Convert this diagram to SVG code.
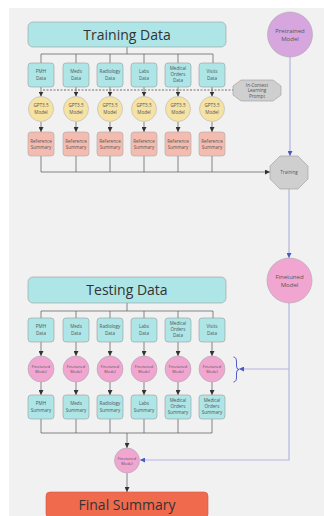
<svg xmlns="http://www.w3.org/2000/svg" width="324" height="516" viewBox="0 0 324 516">
  <style>
    .t { font-family: "Open Sans", "Noto Sans", "Liberation Sans", sans-serif; fill: #555; text-anchor: middle; }
    .big { font-size: 14px; fill: #333; }
    .sm { font-size: 4.6px; }
    .xs { font-size: 3.9px; }
    .md { font-size: 6px; }
    .cyan { fill: #aee5e6; stroke: #9a9a9a; stroke-width: 0.6; }
    .yel { fill: #f6e2a3; stroke: #b5b5b5; stroke-width: 0.6; }
    .sal { fill: #f4bcb0; stroke: #a8a8a8; stroke-width: 0.6; }
    .pink { fill: #f1a6d1; stroke: #a8a8a8; stroke-width: 0.6; }
    .oct { fill: #cfcfcf; stroke: #9a9a9a; stroke-width: 0.6; }
    .ln { fill: none; stroke: #555; stroke-width: 0.7; }
    .bl { fill: none; stroke: #b3b6e0; stroke-width: 1.2; }
  </style>
  <defs>
    <marker id="ah" viewBox="0 0 6 6" refX="6" refY="3" markerWidth="5" markerHeight="5" markerUnits="userSpaceOnUse" orient="auto">
      <path d="M0,0 L6,3 L0,6 Z" fill="#333"/>
    </marker>
    <marker id="ahb" viewBox="0 0 6 6" refX="6" refY="3" markerWidth="5" markerHeight="5" markerUnits="userSpaceOnUse" orient="auto">
      <path d="M0,0 L6,3 L0,6 Z" fill="#4a58c4"/>
    </marker>
  </defs>

  <!-- canvas panel -->
  <rect x="0" y="0" width="324" height="516" fill="#ffffff"/>
  <rect x="9" y="8" width="315" height="508" fill="#f1f1f1"/>

  <!-- connectors -->
  <g id="connectors">
    <!-- training bus -->
    <path class="ln" d="M127,47 V54 M41,63 V54 H213 V63 M76,54 V63 M110,54 V63 M144,54 V63 M178,54 V63"/>
    <path d="M43,90 H233" fill="none" stroke="#333" stroke-width="0.7" stroke-dasharray="2,1.5"/>
    <g class="ln" marker-end="url(#ah)">
      <path d="M41,87 V96.5"/><path d="M76,87 V96.5"/><path d="M110,87 V96.5"/>
      <path d="M144,87 V96.5"/><path d="M178,87 V96.5"/><path d="M212,87 V96.5"/>
      <path d="M41,122 V132"/><path d="M76,122 V132"/><path d="M110,122 V132"/>
      <path d="M144,122 V132"/><path d="M178,122 V132"/><path d="M212,122 V132"/>
    </g>
    <path class="ln" d="M41,156 V172 M76,156 V172 M110,156 V172 M144,156 V172 M178,156 V172 M212,156 V172"/>
    <path class="ln" d="M41,172 H270" marker-end="url(#ah)"/>

    <!-- model line -->
    <path class="bl" d="M290,57 V156" marker-end="url(#ahb)"/>
    <path class="bl" d="M289,189 V258" marker-end="url(#ahb)"/>
    <path class="bl" d="M289,303 V460 H140" marker-end="url(#ahb)"/>
    <path class="bl" d="M289,369 H239" marker-end="url(#ahb)"/>
    <path d="M233.5,357 Q236.5,357 236.5,362 V366 Q236.5,369.5 239,369.5 Q236.5,369.5 236.5,373 V377 Q236.5,382 233.5,382" fill="none" stroke="#3b4cc0" stroke-width="0.9"/>

    <!-- testing bus -->
    <path class="ln" d="M127,303 V311 M41,318 V311 H213 V318 M76,311 V318 M110,311 V318 M144,311 V318 M178,311 V318"/>
    <g class="ln" marker-end="url(#ah)">
      <path d="M41,342 V356"/><path d="M76,342 V356"/><path d="M110,342 V356"/>
      <path d="M144,342 V356"/><path d="M178,342 V356"/><path d="M212,342 V356"/>
      <path d="M41,382 V395"/><path d="M76,382 V395"/><path d="M110,382 V395"/>
      <path d="M144,382 V395"/><path d="M178,382 V395"/><path d="M212,382 V395"/>
    </g>
    <path class="ln" d="M41,419 V433 M76,419 V433 M110,419 V433 M144,419 V433 M178,419 V433 M212,419 V433 M41,433 H212"/>
    <path class="ln" d="M127,433 V448" marker-end="url(#ah)"/>
    <path class="ln" d="M127,473 V492" marker-end="url(#ah)"/>
  </g>

  <!-- training section -->
  <g id="training-data">
    <rect class="cyan" x="28" y="22" width="198" height="25" rx="5"/>
    <text class="t big" x="127" y="39.5">Training Data</text>
  </g>

  <g id="train-pmh"><rect class="cyan" x="28" y="63" width="26" height="24" rx="3"/>
    <text class="t sm" x="41" y="73">PMH</text><text class="t sm" x="41" y="80">Data</text></g>
  <g id="train-meds"><rect class="cyan" x="63" y="63" width="26" height="24" rx="3"/>
    <text class="t sm" x="76" y="73">Meds</text><text class="t sm" x="76" y="80">Data</text></g>
  <g id="train-radiology"><rect class="cyan" x="97" y="63" width="26" height="24" rx="3"/>
    <text class="t sm" x="110" y="73">Radiology</text><text class="t sm" x="110" y="80">Data</text></g>
  <g id="train-labs"><rect class="cyan" x="131" y="63" width="26" height="24" rx="3"/>
    <text class="t sm" x="144" y="73">Labs</text><text class="t sm" x="144" y="80">Data</text></g>
  <g id="train-orders"><rect class="cyan" x="165" y="63" width="26" height="24" rx="3"/>
    <text class="t sm" x="178" y="69.5">Medical</text><text class="t sm" x="178" y="75.5">Orders</text><text class="t sm" x="178" y="81.5">Data</text></g>
  <g id="train-visits"><rect class="cyan" x="199" y="63" width="26" height="24" rx="3"/>
    <text class="t sm" x="212" y="73">Visits</text><text class="t sm" x="212" y="80">Data</text></g>

  <g id="icl-prompt">
    <polygon class="oct" points="241,80 273,80 281,86 281,95 273,101 241,101 233,95 233,86"/>
    <text class="t sm" x="257" y="86.5">In-Context</text>
    <text class="t sm" x="257" y="92">Learning</text>
    <text class="t sm" x="257" y="97.5">Prompt</text>
  </g>

  <g id="gpt-1"><circle class="yel" cx="41" cy="109" r="12.5"/><text class="t sm" x="41" y="107">GPT3.5</text><text class="t sm" x="41" y="114">Model</text></g>
  <g id="gpt-2"><circle class="yel" cx="76" cy="109" r="12.5"/><text class="t sm" x="76" y="107">GPT3.5</text><text class="t sm" x="76" y="114">Model</text></g>
  <g id="gpt-3"><circle class="yel" cx="110" cy="109" r="12.5"/><text class="t sm" x="110" y="107">GPT3.5</text><text class="t sm" x="110" y="114">Model</text></g>
  <g id="gpt-4"><circle class="yel" cx="144" cy="109" r="12.5"/><text class="t sm" x="144" y="107">GPT3.5</text><text class="t sm" x="144" y="114">Model</text></g>
  <g id="gpt-5"><circle class="yel" cx="178" cy="109" r="12.5"/><text class="t sm" x="178" y="107">GPT3.5</text><text class="t sm" x="178" y="114">Model</text></g>
  <g id="gpt-6"><circle class="yel" cx="212" cy="109" r="12.5"/><text class="t sm" x="212" y="107">GPT3.5</text><text class="t sm" x="212" y="114">Model</text></g>

  <g id="ref-1"><rect class="sal" x="28" y="132" width="26" height="24" rx="3"/><text class="t sm" x="41" y="142.5">Reference</text><text class="t sm" x="41" y="148.5">Summary</text></g>
  <g id="ref-2"><rect class="sal" x="63" y="132" width="26" height="24" rx="3"/><text class="t sm" x="76" y="142.5">Reference</text><text class="t sm" x="76" y="148.5">Summary</text></g>
  <g id="ref-3"><rect class="sal" x="97" y="132" width="26" height="24" rx="3"/><text class="t sm" x="110" y="142.5">Reference</text><text class="t sm" x="110" y="148.5">Summary</text></g>
  <g id="ref-4"><rect class="sal" x="131" y="132" width="26" height="24" rx="3"/><text class="t sm" x="144" y="142.5">Reference</text><text class="t sm" x="144" y="148.5">Summary</text></g>
  <g id="ref-5"><rect class="sal" x="165" y="132" width="26" height="24" rx="3"/><text class="t sm" x="178" y="142.5">Reference</text><text class="t sm" x="178" y="148.5">Summary</text></g>
  <g id="ref-6"><rect class="sal" x="199" y="132" width="26" height="24" rx="3"/><text class="t sm" x="212" y="142.5">Reference</text><text class="t sm" x="212" y="148.5">Summary</text></g>

  <!-- model path -->
  <g id="pretrained-model">
    <circle cx="290" cy="34.5" r="22.5" fill="#d8a6de" stroke="#a8a8a8" stroke-width="0.6"/>
    <text class="t md" x="290" y="33">Pretrained</text>
    <text class="t md" x="290" y="40.5">Model</text>
  </g>
  <g id="training">
    <polygon class="oct" points="280,156 298,156 308,166 308,179 298,189 280,189 270,179 270,166"/>
    <text class="t sm" x="289" y="174">Training</text>
  </g>
  <g id="finetuned-model">
    <circle class="pink" cx="289.5" cy="280.5" r="22.5"/>
    <text class="t md" x="289.5" y="279">Finetuned</text>
    <text class="t md" x="289.5" y="286.5">Model</text>
  </g>

  <!-- testing section -->
  <g id="testing-data">
    <rect class="cyan" x="28" y="277" width="198" height="26" rx="5"/>
    <text class="t big" x="127" y="295">Testing Data</text>
  </g>

  <g id="test-pmh"><rect class="cyan" x="28" y="318" width="26" height="24" rx="3"/>
    <text class="t sm" x="41" y="328">PMH</text><text class="t sm" x="41" y="335">Data</text></g>
  <g id="test-meds"><rect class="cyan" x="63" y="318" width="26" height="24" rx="3"/>
    <text class="t sm" x="76" y="328">Meds</text><text class="t sm" x="76" y="335">Data</text></g>
  <g id="test-radiology"><rect class="cyan" x="97" y="318" width="26" height="24" rx="3"/>
    <text class="t sm" x="110" y="328">Radiology</text><text class="t sm" x="110" y="335">Data</text></g>
  <g id="test-labs"><rect class="cyan" x="131" y="318" width="26" height="24" rx="3"/>
    <text class="t sm" x="144" y="328">Labs</text><text class="t sm" x="144" y="335">Data</text></g>
  <g id="test-orders"><rect class="cyan" x="165" y="318" width="26" height="24" rx="3"/>
    <text class="t sm" x="178" y="324.5">Medical</text><text class="t sm" x="178" y="330.5">Orders</text><text class="t sm" x="178" y="336.5">Data</text></g>
  <g id="test-visits"><rect class="cyan" x="199" y="318" width="26" height="24" rx="3"/>
    <text class="t sm" x="212" y="328">Visits</text><text class="t sm" x="212" y="335">Data</text></g>

  <g id="ft-1"><circle class="pink" cx="41" cy="369" r="13"/><text class="t xs" x="41" y="368">Finetuned</text><text class="t xs" x="41" y="373">Model</text></g>
  <g id="ft-2"><circle class="pink" cx="76" cy="369" r="13"/><text class="t xs" x="76" y="368">Finetuned</text><text class="t xs" x="76" y="373">Model</text></g>
  <g id="ft-3"><circle class="pink" cx="110" cy="369" r="13"/><text class="t xs" x="110" y="368">Finetuned</text><text class="t xs" x="110" y="373">Model</text></g>
  <g id="ft-4"><circle class="pink" cx="144" cy="369" r="13"/><text class="t xs" x="144" y="368">Finetuned</text><text class="t xs" x="144" y="373">Model</text></g>
  <g id="ft-5"><circle class="pink" cx="178" cy="369" r="13"/><text class="t xs" x="178" y="368">Finetuned</text><text class="t xs" x="178" y="373">Model</text></g>
  <g id="ft-6"><circle class="pink" cx="212" cy="369" r="13"/><text class="t xs" x="212" y="368">Finetuned</text><text class="t xs" x="212" y="373">Model</text></g>

  <g id="sum-pmh"><rect class="cyan" x="28" y="395" width="26" height="24" rx="3"/>
    <text class="t sm" x="41" y="405">PMH</text><text class="t sm" x="41" y="412">Summary</text></g>
  <g id="sum-meds"><rect class="cyan" x="63" y="395" width="26" height="24" rx="3"/>
    <text class="t sm" x="76" y="405">Meds</text><text class="t sm" x="76" y="412">Summary</text></g>
  <g id="sum-radiology"><rect class="cyan" x="97" y="395" width="26" height="24" rx="3"/>
    <text class="t sm" x="110" y="405">Radiology</text><text class="t sm" x="110" y="412">Summary</text></g>
  <g id="sum-labs"><rect class="cyan" x="131" y="395" width="26" height="24" rx="3"/>
    <text class="t sm" x="144" y="405">Labs</text><text class="t sm" x="144" y="412">Summary</text></g>
  <g id="sum-orders"><rect class="cyan" x="165" y="395" width="26" height="24" rx="3"/>
    <text class="t sm" x="178" y="401.5">Medical</text><text class="t sm" x="178" y="407.5">Orders</text><text class="t sm" x="178" y="413.5">Summary</text></g>
  <g id="sum-orders-2"><rect class="cyan" x="199" y="395" width="26" height="24" rx="3"/>
    <text class="t sm" x="212" y="401.5">Medical</text><text class="t sm" x="212" y="407.5">Orders</text><text class="t sm" x="212" y="413.5">Summary</text></g>

  <g id="ft-final"><circle class="pink" cx="127" cy="460.5" r="12.5"/><text class="t xs" x="127" y="459.5">Finetuned</text><text class="t xs" x="127" y="464.5">Model</text></g>

  <g id="final-summary">
    <rect x="46" y="492" width="162" height="26" rx="4" fill="#f06a4e" stroke="#c95a45" stroke-width="0.6"/>
    <text class="t big" x="127" y="509.5">Final Summary</text>
  </g>
</svg>
